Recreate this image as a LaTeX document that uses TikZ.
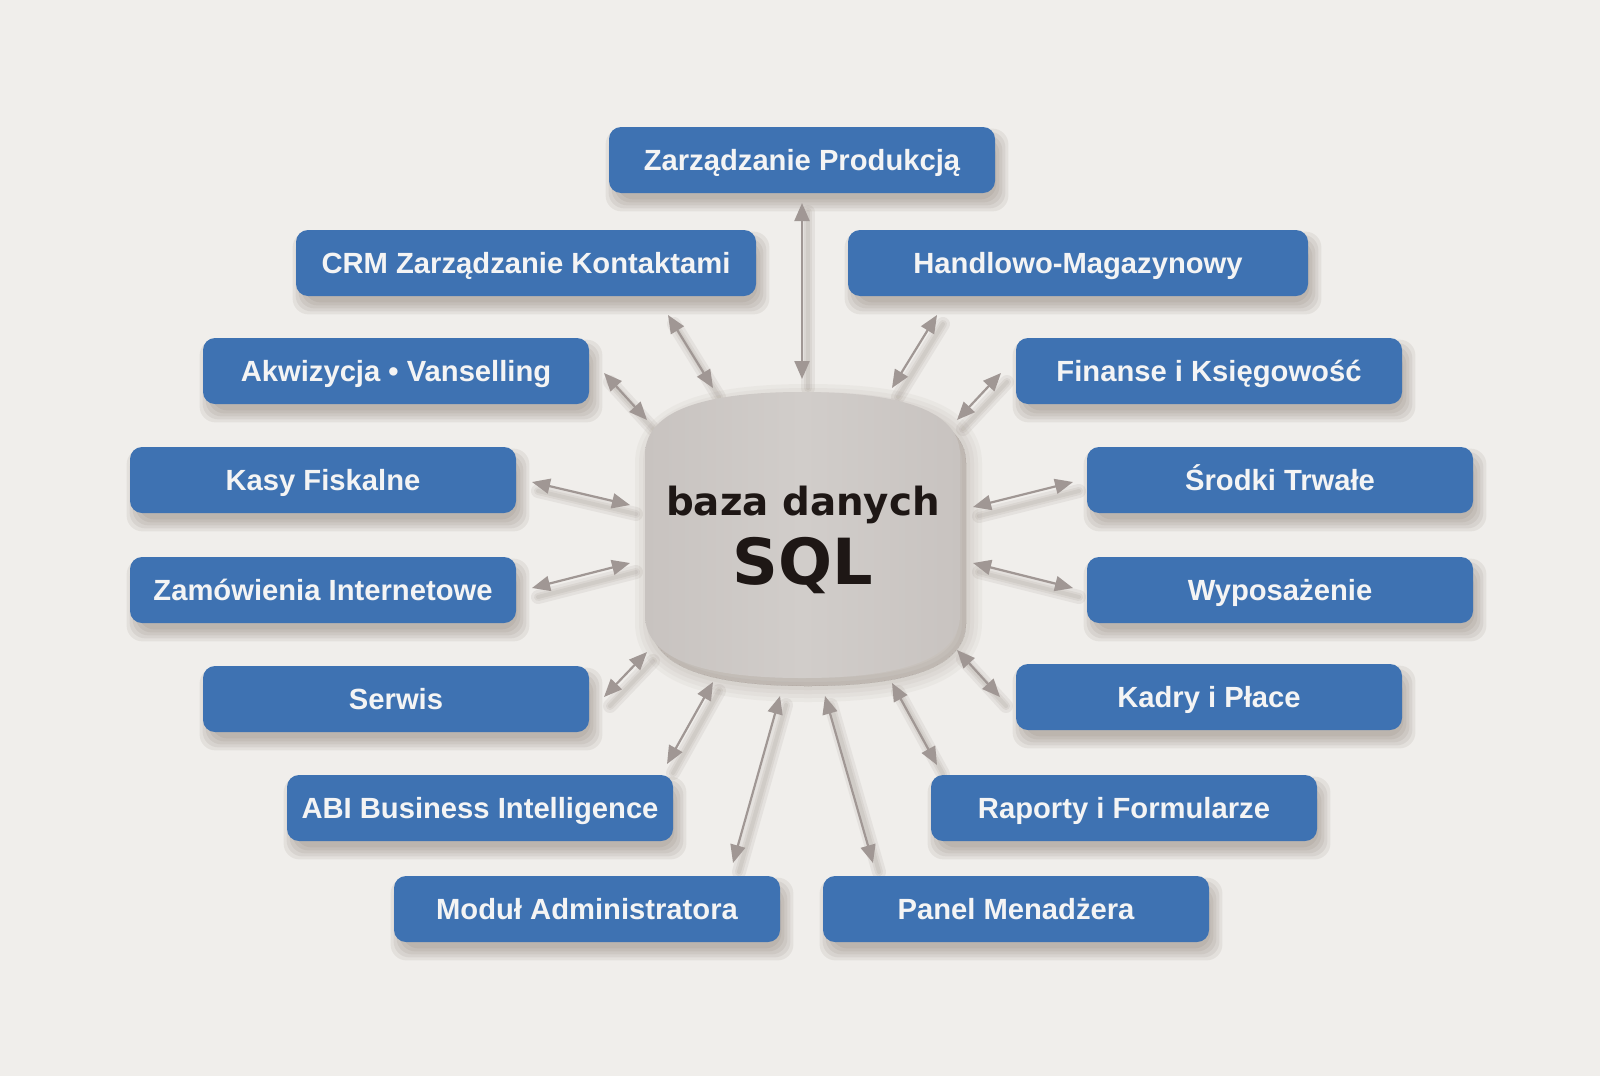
\documentclass[tikz,border=0pt]{standalone}
\usepackage{fontspec}
\setmainfont{Liberation Sans}
\newfontfamily\dbfont{DejaVu Sans}
\usetikzlibrary{arrows.meta}
\definecolor{bgc}{HTML}{F0EEEB}
\definecolor{boxblue}{HTML}{3E72B2}
\definecolor{arrc}{HTML}{A09794}
\definecolor{shc}{HTML}{76685F}
\definecolor{dbedge}{HTML}{C8C3C0}
\definecolor{dbmid}{HTML}{D1CDCA}
\definecolor{txtw}{HTML}{F4F4F4}
\definecolor{txtd}{HTML}{1E1715}
\pgfdeclarelayer{bglayer}
\pgfdeclarelayer{shadowlayer}
\pgfsetlayers{bglayer,shadowlayer,main}
\newcommand\dbshape[1]{\path[#1] (645,455) .. controls (645,405) and (720,392) .. (802,392) .. controls (885,392) and (960,405) .. (960,455) -- (960,615) .. controls (960,665) and (885,678) .. (802,678) .. controls (720,678) and (645,665) .. (645,615) -- cycle;}
\begin{document}
\begin{tikzpicture}[x=0.5pt,y=-0.5pt,
  box/.style={fill=boxblue, rounded corners=6pt, minimum height=33pt, text=txtw,
    font=\bfseries\fontsize{14.6}{17}\selectfont, inner sep=0pt, minimum width=193pt,
    text height=10.4pt, text depth=0pt},
  widebox/.style={box, minimum width=230pt},
  conn/.style={draw=arrc, line width=1.1pt, {Triangle[length=9pt,width=7.5pt]}-{Triangle[length=9pt,width=7.5pt]}},
  dbtext/.style={text=txtd, anchor=base, inner sep=0pt}]
\useasboundingbox (0,0) rectangle (1600,1076);
\begin{pgfonlayer}{bglayer}
  \fill[bgc] (0,0) rectangle (1600,1076);
\end{pgfonlayer}

% database
\begin{pgfonlayer}{shadowlayer}
  \foreach \w in {0pt,4pt,8pt,12pt,16pt}{\dbshape{fill=shc, draw=shc, fill opacity=0.05, draw opacity=0.05, line width=\w, line join=round, shift={(6,8)}}}
\end{pgfonlayer}
\dbshape{left color=dbedge, right color=dbedge, middle color=dbmid}
\coordinate (db) at (802,535);
\node[dbtext, font=\dbfont\bfseries\fontsize{19.4}{22}\selectfont] (dbt1) at (803,515) {baza danych};
\node[dbtext, font=\dbfont\bfseries\fontsize{31.8}{36}\selectfont] (dbt2) at (803,584) {SQL};

% boxes
\node[box] (zp) at (802,160) {Zarządzanie Produkcją};
\node[widebox] (crm) at (526,263) {CRM Zarządzanie Kontaktami};
\node[widebox] (hm) at (1078,263) {Handlowo-Magazynowy};
\node[box] (akw) at (396,371) {Akwizycja • Vanselling};
\node[box] (fin) at (1209,371) {Finanse i Księgowość};
\node[box] (kasy) at (323,480) {Kasy Fiskalne};
\node[box] (sro) at (1280,480) {Środki Trwałe};
\node[box] (zam) at (323,590) {Zamówienia Internetowe};
\node[box] (wyp) at (1280,590) {Wyposażenie};
\node[box] (ser) at (396,699) {Serwis};
\node[box] (kad) at (1209,697) {Kadry i Płace};
\node[box] (abi) at (480,808) {ABI Business Intelligence};
\node[box] (rap) at (1124,808) {Raporty i Formularze};
\node[box] (mod) at (587,909) {Moduł Administratora};
\node[box] (pan) at (1016,909) {Panel Menadżera};

\begin{pgfonlayer}{shadowlayer}
  \foreach \n in {zp,crm,hm,akw,fin,kasy,sro,zam,wyp,ser,kad,abi,rap,mod,pan}{
    \foreach \e in {-4,-1,2,5,8}{
      \fill[shc, opacity=0.1, rounded corners=8pt] ([shift={(5-\e,10+\e)}]\n.south west) rectangle ([shift={(5+\e,10-\e)}]\n.north east);
    }
  }
\end{pgfonlayer}

% connector end points
\coordinate (zpA) at (802,203);  \coordinate (zpB) at (802,379);
\coordinate (crmA) at (668,315); \coordinate (crmB) at (713,388);
\coordinate (hmA) at (937,315);  \coordinate (hmB) at (892,388);
\coordinate (akwA) at (604,373); \coordinate (akwB) at (647,420);
\coordinate (finA) at (1001,373);\coordinate (finB) at (957,420);
\coordinate (kasyA) at (532,482);\coordinate (kasyB) at (630,505);
\coordinate (sroA) at (1073,482);\coordinate (sroB) at (973,507);
\coordinate (zamA) at (532,588); \coordinate (zamB) at (630,563);
\coordinate (wypA) at (1073,588);\coordinate (wypB) at (973,563);
\coordinate (serA) at (604,697); \coordinate (serB) at (647,652);
\coordinate (kadA) at (1000,697);\coordinate (kadB) at (957,650);
\coordinate (abiA) at (667,764); \coordinate (abiB) at (713,682);
\coordinate (rapA) at (937,765); \coordinate (rapB) at (892,683);
\coordinate (modA) at (733,863); \coordinate (modB) at (780,696);
\coordinate (panA) at (873,863); \coordinate (panB) at (825,696);

\foreach \c in {zp,crm,hm,akw,fin,kasy,sro,zam,wyp,ser,kad,abi,rap,mod,pan}{
  \begin{pgfonlayer}{shadowlayer}
    \foreach \w in {2pt,4pt,7pt}{
      \draw[shc, opacity=0.09, line width=\w, line cap=round] ([shift={(6,9)}]\c A) -- ([shift={(6,9)}]\c B);
    }
  \end{pgfonlayer}
  \draw[conn] (\c A) -- (\c B);
}
\end{tikzpicture}
\end{document}
